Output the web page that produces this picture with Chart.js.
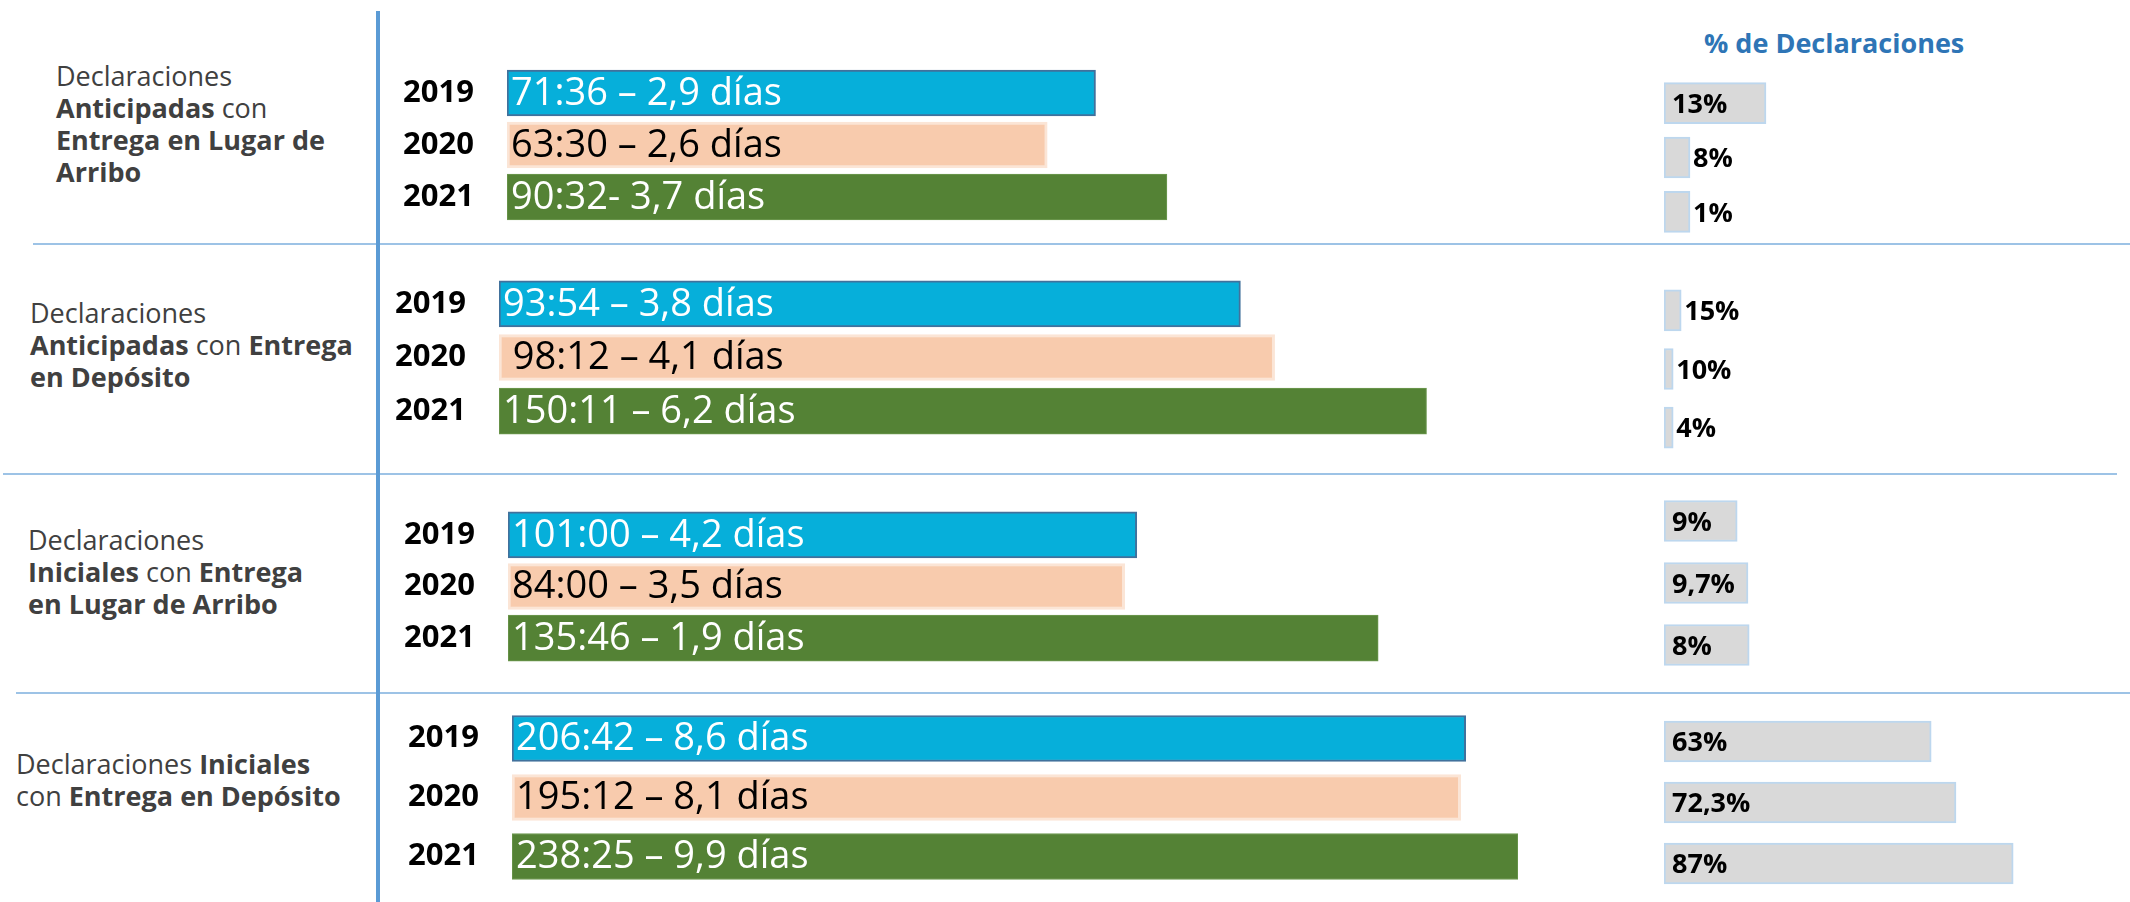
<!doctype html>
<html>
<head>
<meta charset="utf-8">
<title>Tiempos de despacho por tipo de declaración</title>
<script src="https://cdn.jsdelivr.net/npm/chart.js"></script>
<style>
  body { margin: 0; width: 2130px; height: 902px; background: #fff; position: relative; overflow: hidden; font-family: 'Open Sans', sans-serif; }
  .sep { position: absolute; height: 2px; background: #9DC3E6; }
  #vline { position: absolute; left: 376px; top: 11px; width: 4px; height: 891px; background: #5B9BD5; }
  .grupo { position: absolute; color: #404040; font-size: 27px; line-height: 32px; white-space: nowrap; }
  .grupo b { font-weight: 700; }
  #titulo { position: absolute; left: 1704px; top: 27px; color: #2E75B6; font-weight: 700; font-size: 27px; line-height: 32px; }
  canvas { position: absolute; }
</style>
</head>
<body>

<div class="sep" style="left:33px; top:243px; width:2097px;"></div>
<div class="sep" style="left:3px; top:473px; width:2114px;"></div>
<div class="sep" style="left:16px; top:692px; width:2114px;"></div>
<div id="vline"></div>
<div id="titulo">% de Declaraciones</div>

<script>
// datos
var anios = ['2019', '2020', '2021'];

var grupos = [
  'Declaraciones<br><b>Anticipadas</b> con<br><b>Entrega en Lugar de</b><br><b>Arribo</b>',
  'Declaraciones<br><b>Anticipadas</b> con <b>Entrega</b><br><b>en Depósito</b>',
  'Declaraciones<br><b>Iniciales</b> con <b>Entrega</b><br><b>en Lugar de Arribo</b>',
  'Declaraciones <b>Iniciales</b><br>con <b>Entrega en Depósito</b>'
];

var tiempos = [
  ['71:36 – 2,9 días', '63:30 – 2,6 días', '90:32- 3,7 días'],
  ['93:54 – 3,8 días', ' 98:12 – 4,1 días', '150:11 – 6,2 días'],
  ['101:00 – 4,2 días', '84:00 – 3,5 días', '135:46 – 1,9 días'],
  ['206:42 – 8,6 días', '195:12 – 8,1 días', '238:25 – 9,9 días']
];

// largo de cada barra tal como esta dibujada en el original (no va a escala con las horas)
var largoTiempo = [
  [58.5, 53.7, 65.6],
  [73.7, 77.1, 92.2],
  [62.5, 61.3, 86.5],
  [94.8, 94.3, 100]
];

var pctTexto = [
  ['13%', '8%', '1%'],
  ['15%', '10%', '4%'],
  ['9%', '9,7%', '8%'],
  ['63%', '72,3%', '87%']
];

var largoPct = [
  [25.5, 6.5, 6.5],
  [4.3, 2.3, 2.3],
  [18.3, 21, 21.3],
  [66.8, 73, 87.3]
];

// posiciones de cada bloque
var textoPos = [[56, 60], [30, 297], [28, 524], [16, 748]];
var barraIni = [507, 499, 508, 512];
var barraTop = [67, 277, 509, 709];
var barraFila = [52, 53.5, 51.5, 59];
var pctTop = [76, 281, 490, 711];
var pctFila = [54.25, 58.75, 62, 61];

var colores = ['#06AFDA', '#F8CBAD', '#548235'];
var bordes = ['#41719C', '#FBE5D6', '#6F9A52'];
var colorTexto = ['#ffffff', '#000000', '#ffffff'];

var textoBarras = {
  id: 'textoBarras',
  afterDatasetsDraw: function(chart) {
    var ctx = chart.ctx;
    var meta = chart.getDatasetMeta(0);
    var g = chart.options.grupo;
    ctx.save();
    ctx.font = '38px "Open Sans"';
    ctx.textAlign = 'left';
    ctx.textBaseline = 'middle';
    meta.data.forEach(function(bar, i) {
      ctx.fillStyle = colorTexto[i];
      ctx.fillText(tiempos[g][i], bar.base + 4, bar.y + 1);
    });
    ctx.restore();
  }
};

var textoPct = {
  id: 'textoPct',
  afterDatasetsDraw: function(chart) {
    var ctx = chart.ctx;
    var meta = chart.getDatasetMeta(0);
    var g = chart.options.grupo;
    ctx.save();
    ctx.font = 'bold 27px "Open Sans"';
    ctx.textAlign = 'left';
    ctx.textBaseline = 'middle';
    ctx.fillStyle = '#000';
    meta.data.forEach(function(bar, i) {
      var txt = pctTexto[g][i];
      var w = ctx.measureText(txt).width;
      var x = (bar.x - bar.base > w + 16) ? bar.base + 8 : bar.x + 3;
      ctx.fillText(txt, x, bar.y + 2);
    });
    ctx.restore();
  }
};

function nuevoCanvas(left, top, w, h) {
  var c = document.createElement('canvas');
  c.width = w;
  c.height = Math.round(h);
  c.style.left = left + 'px';
  c.style.top = top + 'px';
  document.body.appendChild(c);
  return c;
}

for (var g = 0; g < grupos.length; g++) {
  var t = document.createElement('div');
  t.className = 'grupo';
  t.style.left = textoPos[g][0] + 'px';
  t.style.top = textoPos[g][1] + 'px';
  t.innerHTML = grupos[g];
  document.body.appendChild(t);

  // barras de tiempo
  var c1 = nuevoCanvas(barraIni[g] - 125, barraTop[g], 125 + 1006, barraFila[g] * 3);
  new Chart(c1, {
    type: 'bar',
    data: {
      labels: anios,
      datasets: [{
        data: largoTiempo[g],
        backgroundColor: colores,
        borderColor: bordes,
        borderWidth: [2, 3, 1],
        borderSkipped: false,
        barThickness: 46
      }]
    },
    options: {
      grupo: g,
      indexAxis: 'y',
      responsive: false,
      animation: false,
      layout: { padding: 0 },
      plugins: { legend: { display: false }, tooltip: { enabled: false } },
      scales: {
        x: { display: false, min: 0, max: 100 },
        y: {
          grid: { display: false },
          border: { display: false },
          ticks: { color: '#000', padding: 25, font: { family: 'Open Sans', size: 31, weight: 'bold' } },
          afterFit: function(s) { s.width = 125; s.paddingTop = 0; s.paddingBottom = 0; }
        }
      }
    },
    plugins: [textoBarras]
  });

  // barras de porcentaje
  var c2 = nuevoCanvas(1664, pctTop[g], 466, pctFila[g] * 3);
  new Chart(c2, {
    type: 'bar',
    data: {
      labels: anios,
      datasets: [{
        data: largoPct[g],
        backgroundColor: '#D9D9D9',
        borderColor: '#BDD7EE',
        borderWidth: 2,
        borderSkipped: false,
        barThickness: 41
      }]
    },
    options: {
      grupo: g,
      indexAxis: 'y',
      responsive: false,
      animation: false,
      layout: { padding: 0 },
      plugins: { legend: { display: false }, tooltip: { enabled: false } },
      scales: {
        x: { display: false, min: 0, max: 116.5 },
        y: { display: false }
      }
    },
    plugins: [textoPct]
  });
}
</script>
</body>
</html>
